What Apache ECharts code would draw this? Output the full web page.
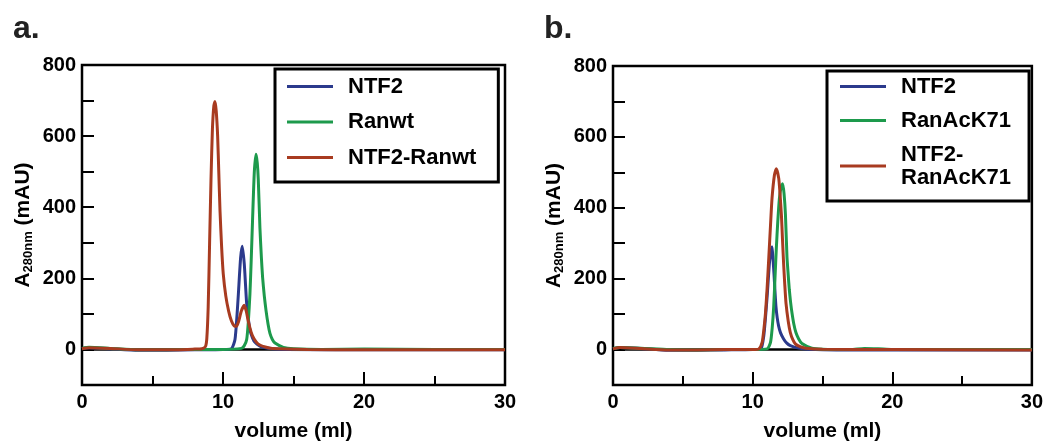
<!DOCTYPE html>
<html>
<head>
<meta charset="utf-8">
<script src="https://cdn.jsdelivr.net/npm/echarts@6/dist/echarts.min.js"></script>
<style>
  html, body { margin: 0; padding: 0; background: #fff; }
  #chart { width: 1046px; height: 447px; }
</style>
</head>
<body>
<div id="chart"></div>
<script>
// volume (ml), A280nm (mAU)
const zeroLine = [[0, 0], [30, 0]];

const ntf2A = [[0,3],[0.5,5],[2,2],[4,-2],[6,-2],[8,-1],[10,0],[10.6,2],[10.85,28],[11.0,100],[11.09,156],[11.25,258],[11.37,290],[11.51,240],[11.6,180],[11.68,128],[11.8,85],[11.91,55],[12.1,32],[12.27,20],[12.6,10],[12.86,6],[13.5,2],[14.5,0],[20,-1],[30,-1]];
const ranwtA = [[0,3],[0.5,6],[2,3],[4,-1],[6,-1],[8,0],[10,0],[11.3,3],[11.5,10],[11.68,28],[11.8,80],[11.91,156],[12.0,250],[12.1,369],[12.22,498],[12.34,549],[12.43,525],[12.5,480],[12.62,341],[12.72,260],[12.81,202],[12.93,150],[13.05,110],[13.2,70],[13.33,45],[13.5,28],[13.69,18],[14.28,6],[15,2],[17,0],[20,1],[25,0],[30,0]];
const complexA = [[0,2],[0.5,5],[2,3],[4,-1],[6,-1],[8,1],[8.5,2],[8.75,8],[8.85,30],[8.95,120],[9.05,300],[9.15,480],[9.25,620],[9.35,685],[9.43,697],[9.52,670],[9.62,600],[9.7,500],[9.79,388],[9.9,290],[10.02,212],[10.2,150],[10.4,108],[10.6,80],[10.8,66],[10.95,65],[11.1,78],[11.3,108],[11.5,124],[11.65,108],[11.8,78],[12.0,48],[12.2,30],[12.5,15],[13,7],[13.5,3],[16,0],[20,-1],[25,-1],[30,-1]];

const ntf2B = [[0,2],[0.5,6],[2,3],[4,-2],[6,-2],[8,-1],[10,0],[10.6,2],[10.8,39],[10.92,90],[11.04,150],[11.22,251],[11.39,290],[11.46,255],[11.53,214],[11.6,165],[11.67,122],[11.76,90],[11.86,67],[12.0,47],[12.22,30],[12.45,18],[12.7,11],[13.29,4],[14,1],[16,-1],[20,-1],[30,-1]];
const ranAcB = [[0,3],[0.5,6],[2,4],[4,0],[6,-1],[8,0],[10,0],[11.04,2],[11.28,20],[11.4,60],[11.51,122],[11.6,200],[11.7,288],[11.8,360],[11.92,427],[12.05,460],[12.15,468],[12.25,440],[12.35,381],[12.46,261],[12.55,210],[12.63,168],[12.72,133],[12.82,103],[12.95,72],[13.1,48],[13.3,30],[13.53,17],[14.24,4],[15,1],[17,0],[18,3],[19,2],[20,0],[30,0]];
const complexB = [[0,2],[0.5,6],[2,3],[4,-1],[6,-1],[8,0],[10,0],[10.45,2],[10.68,20],[10.8,55],[10.92,103],[11.04,175],[11.16,261],[11.28,350],[11.39,427],[11.56,492],[11.7,510],[11.87,483],[11.96,440],[12.06,381],[12.14,310],[12.22,242],[12.3,185],[12.39,131],[12.55,80],[12.7,48],[12.88,28],[13.06,16],[13.4,8],[13.8,4],[15,1],[20,0],[30,-1]];

const xTicks = [0, 10, 20, 30];
const yLabels = [0, 200, 400, 600, 800];

const FONT = "Liberation Sans";
const BLUE = "#2b3a8c", GREEN = "#1d9a4c", RED = "#a83b20";

const chart = echarts.init(document.getElementById("chart"));

function xAxis(gridIndex) {
  return {
    type: "value", gridIndex, min: 0, max: 30, interval: 10,
    name: "volume (ml)", nameLocation: "middle", nameGap: 36,
    nameTextStyle: { fontFamily: FONT, fontWeight: "bold", fontSize: 21, color: "#000" },
    axisLine: { show: false, onZero: false },
    axisTick: { show: true, inside: true, length: 13, lineStyle: { color: "#000", width: 2 } },
    minorTick: { show: true, splitNumber: 2, length: 9, lineStyle: { color: "#000", width: 2 } },
    splitLine: { show: false },
    axisLabel: {
      margin: 7, fontFamily: FONT, fontWeight: "bold", fontSize: 20, color: "#000",
      formatter: (v) => xTicks.includes(v) ? String(v) : ""
    }
  };
}

function yAxis(gridIndex) {
  return {
    type: "value", gridIndex, min: -100, max: 800, interval: 100,
    name: "{a|A}{s|280nm}{a| (mAU)}", nameLocation: "middle", nameGap: 46, nameRotate: 90,
    nameTextStyle: {
      color: "#000",
      rich: {
        a: { fontFamily: FONT, fontWeight: "bold", fontSize: 21, color: "#000", lineHeight: 26 },
        s: { fontFamily: FONT, fontWeight: "bold", fontSize: 13, color: "#000", lineHeight: 26, padding: [10, 0, 0, 0] }
      }
    },
    axisLine: { show: false, onZero: false },
    axisTick: { show: true, inside: true, length: 12, lineStyle: { color: "#000", width: 2 } },
    splitLine: { show: false },
    axisLabel: {
      margin: 6, fontFamily: FONT, fontWeight: "bold", fontSize: 20, color: "#000",
      formatter: (v) => yLabels.includes(v) ? String(v) : ""
    }
  };
}

function line(name, data, color, idx) {
  return {
    name, type: "line", data, xAxisIndex: idx, yAxisIndex: idx,
    showSymbol: false, smooth: 0.2, silent: true,
    lineStyle: { color, width: 3 }, itemStyle: { color }
  };
}

function legend(names, left, top, padding, itemGap) {
  return {
    data: names, orient: "vertical", left, top, padding, itemGap,
    icon: "rect", itemWidth: 46, itemHeight: 3,
    borderColor: "#000", borderWidth: 3, selectedMode: false,
    textStyle: { fontFamily: FONT, fontWeight: "bold", fontSize: 22, color: "#000", lineHeight: 23, padding: [0, 0, 0, 10] }
  };
}

chart.setOption({
  animation: false,
  backgroundColor: "#fff",
  title: [
    { text: "a.", left: 8, top: 8, textStyle: { fontFamily: FONT, fontWeight: "bold", fontSize: 32, color: "#222" } },
    { text: "b.", left: 539, top: 8, textStyle: { fontFamily: FONT, fontWeight: "bold", fontSize: 32, color: "#222" } }
  ],
  grid: [
    { left: 82, right: 541, top: 65, bottom: 58, show: true, borderColor: "#000", borderWidth: 2.5 },
    { left: 613, right: 11, top: 66, bottom: 57, show: true, borderColor: "#000", borderWidth: 2.5 }
  ],
  legend: [
    legend(["NTF2", "Ranwt", "NTF2-Ranwt"], 275, 69, [6, 22, 13, 12], 12.5),
    legend(["NTF2 ", "RanAcK71", "NTF2-\nRanAcK71"], 827, 71, [4, 18, 12, 13], 11)
  ],
  xAxis: [xAxis(0), xAxis(1)],
  yAxis: [yAxis(0), yAxis(1)],
  series: [
    { type: "line", data: zeroLine, showSymbol: false, silent: true, lineStyle: { color: "#000", width: 2.5 }, xAxisIndex: 0, yAxisIndex: 0 },
    line("NTF2", ntf2A, BLUE, 0),
    line("Ranwt", ranwtA, GREEN, 0),
    line("NTF2-Ranwt", complexA, RED, 0),
    { type: "line", data: zeroLine, showSymbol: false, silent: true, lineStyle: { color: "#000", width: 2.5 }, xAxisIndex: 1, yAxisIndex: 1 },
    line("NTF2 ", ntf2B, BLUE, 1),
    line("RanAcK71", ranAcB, GREEN, 1),
    line("NTF2-\nRanAcK71", complexB, RED, 1)
  ]
});
</script>
</body>
</html>
